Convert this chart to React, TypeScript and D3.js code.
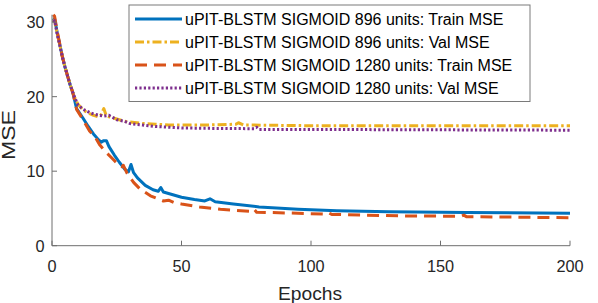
import React from "react";
import * as d3 from "d3";

const xTicks = [0, 50, 100, 150, 200];
const yTicks = [0, 10, 20, 30];

const trainEpochs896 = [0.5, 1, 2, 3, 4, 5, 6, 7, 8, 9.5, 12, 14, 16, 18, 19, 20, 21, 22, 24, 26, 28, 29.5, 30.5, 31.5, 33, 36, 39, 41, 42, 43, 46, 50, 55, 59, 61, 63, 70, 80, 95, 110, 130, 160, 200];
const trainMse896 = [30.2, 30.5, 28.6, 27.0, 25.4, 24.0, 22.8, 21.6, 20.6, 18.4, 17.1, 16.0, 15.0, 14.2, 13.9, 14.1, 14.1, 13.3, 12.2, 11.2, 10.3, 9.9, 10.9, 9.8, 9.1, 8.1, 7.5, 7.3, 7.8, 7.2, 6.9, 6.5, 6.2, 6.0, 6.3, 5.9, 5.6, 5.2, 4.9, 4.7, 4.55, 4.45, 4.35];

const valEpochs896 = [0.5, 1, 2, 3, 4, 5, 6, 7, 8, 9, 10, 11, 12, 14, 16, 18, 19, 20, 21, 23, 25, 28, 30, 35, 40, 45, 50, 60, 71, 72, 74, 100, 150, 200];
const valMse896 = [30.0, 30.3, 28.5, 27.0, 25.3, 24.0, 22.8, 21.6, 20.6, 19.7, 19.0, 18.6, 18.2, 17.8, 17.5, 17.3, 17.6, 18.4, 17.4, 17.2, 17.0, 16.7, 16.6, 16.4, 16.3, 16.2, 16.2, 16.2, 16.3, 16.5, 16.2, 16.1, 16.1, 16.1];

const trainEpochs1280 = [0.5, 1, 2, 3, 4, 5, 6, 7, 8, 9.5, 12, 14.5, 16.6, 18.5, 21, 23, 25, 27, 27.5, 29, 31.5, 34, 38, 43, 45, 47, 50, 57, 65, 77, 78, 79, 90, 105, 106.5, 108, 134, 158, 159, 160, 200];
const trainMse1280 = [31.0, 30.8, 28.8, 27.1, 25.4, 24.0, 22.8, 21.6, 20.6, 18.3, 16.9, 15.4, 14.6, 13.5, 12.5, 11.8, 11.1, 10.6, 10.8, 9.7, 8.5, 7.6, 6.7, 6.0, 6.1, 5.8, 5.6, 5.2, 4.9, 4.6, 4.9, 4.5, 4.4, 4.25, 4.45, 4.2, 4.0, 3.95, 4.1, 3.9, 3.75];

const valEpochs1280 = [0.5, 1, 2, 3, 4, 5, 6, 7, 8, 9, 10, 12, 15, 18, 20, 22, 25, 28, 30, 35, 40, 50, 60, 78, 79, 80, 100, 150, 200];
const valMse1280 = [30.0, 30.2, 28.4, 26.9, 25.3, 24.0, 22.8, 21.6, 20.6, 19.7, 18.9, 18.3, 17.8, 17.5, 17.4, 17.5, 16.9, 16.7, 16.4, 16.2, 16.0, 15.8, 15.75, 15.7, 15.9, 15.6, 15.6, 15.55, 15.5];

const legendLabels = [
  "uPIT-BLSTM SIGMOID 896 units: Train MSE",
  "uPIT-BLSTM SIGMOID 896 units: Val MSE",
  "uPIT-BLSTM SIGMOID 1280 units: Train MSE",
  "uPIT-BLSTM SIGMOID 1280 units: Val MSE",
];

const seriesStyles = [
  { color: "#0072BD", dash: "none", width: 3 },
  { color: "#EDB120", dash: "9,3,2.5,3", width: 3 },
  { color: "#D95319", dash: "12,7", width: 3 },
  { color: "#7E2F8E", dash: "2.2,2.2", width: 3 },
];

export default function App() {
  const x = d3.scaleLinear().domain([0, 200]).range([52, 570]);
  const y = d3.scaleLinear().domain([0, 31]).range([245.7, 14.7]);
  const line = d3
    .line<[number, number]>()
    .x((d) => x(d[0]))
    .y((d) => y(d[1]));

  const series: [number, number][][] = [
    trainEpochs896.map((e, i) => [e, trainMse896[i]]),
    valEpochs896.map((e, i) => [e, valMse896[i]]),
    trainEpochs1280.map((e, i) => [e, trainMse1280[i]]),
    valEpochs1280.map((e, i) => [e, valMse1280[i]]),
  ];
  const font = "'Liberation Sans', Arial, Helvetica, sans-serif";
  const textColor = "#262626";
  const axisColor = "#6e6e6e";
  const [y0, y1] = y.range();

  const legX = 129, legY = 5, legW = 401, legH = 96.5;

  return (
    <svg
      width={598}
      height={303}
      style={{ position: "absolute", left: 0, top: 0, background: "#fff" }}
      fontFamily={font}
    >
      <rect x={0} y={0} width={598} height={303} fill="#fff" />
      {series.map((s, i) => (
        <path
          key={i}
          d={line(s) || ""}
          fill="none"
          stroke={seriesStyles[i].color}
          strokeWidth={seriesStyles[i].width}
          strokeDasharray={seriesStyles[i].dash}
          strokeLinejoin="round"
        />
      ))}
      <line x1={x(0)} x2={x(200)} y1={y0} y2={y0} stroke={axisColor} strokeWidth={1} />
      <line x1={x(0)} x2={x(0)} y1={y0} y2={y1} stroke={axisColor} strokeWidth={1} />
      {xTicks.map((t) => (
        <g key={"x" + t}>
          <line x1={x(t)} x2={x(t)} y1={y0} y2={y0 - 5} stroke={axisColor} />
          <text x={x(t)} y={271.5} textAnchor="middle" fontSize={16.3} fill={textColor}>
            {t}
          </text>
        </g>
      ))}
      {yTicks.map((t) => (
        <g key={"y" + t}>
          <line x1={x(0)} x2={x(0) + 5} y1={y(t)} y2={y(t)} stroke={axisColor} />
          <text x={44.5} y={y(t) + 6} textAnchor="end" fontSize={16.3} fill={textColor}>
            {t}
          </text>
        </g>
      ))}
      <text
        x={310}
        y={300}
        textAnchor="middle"
        fontSize={17.5}
        fill={textColor}
        textLength={64}
        lengthAdjust="spacingAndGlyphs"
      >
        Epochs
      </text>
      <text
        transform={`translate(15, 135) rotate(-90)`}
        textAnchor="middle"
        fontSize={17.5}
        fill={textColor}
        textLength={50}
        lengthAdjust="spacingAndGlyphs"
      >
        MSE
      </text>
      <rect x={legX} y={legY} width={legW} height={legH} fill="#fff" stroke="#7a7a7a" strokeWidth={1} />
      {legendLabels.map((lab, i) => {
        const ry = 19 + i * 23;
        return (
          <g key={lab}>
            <line
              x1={135}
              x2={182}
              y1={ry}
              y2={ry}
              stroke={seriesStyles[i].color}
              strokeWidth={seriesStyles[i].width}
              strokeDasharray={seriesStyles[i].dash}
            />
            <text x={185} y={ry + 6} fontSize={16} fill="#000">
              {lab}
            </text>
          </g>
        );
      })}
    </svg>
  );
}
